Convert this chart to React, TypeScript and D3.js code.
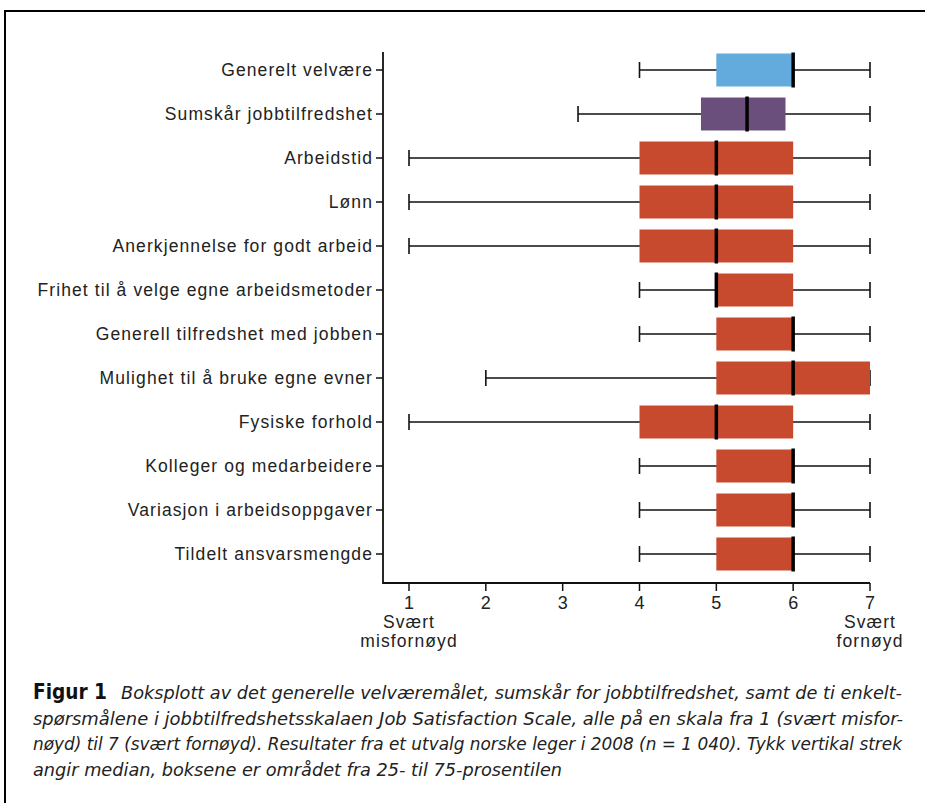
import React from "react";
import * as d3 from "d3";

const categories = [
  "Generelt velvære",
  "Sumskår jobbtilfredshet",
  "Arbeidstid",
  "Lønn",
  "Anerkjennelse for godt arbeid",
  "Frihet til å velge egne arbeidsmetoder",
  "Generell tilfredshet med jobben",
  "Mulighet til å bruke egne evner",
  "Fysiske forhold",
  "Kolleger og medarbeidere",
  "Variasjon i arbeidsoppgaver",
  "Tildelt ansvarsmengde",
];
const minValues = [4, 3.2, 1, 1, 1, 4, 4, 2, 1, 4, 4, 4];
const q1Values = [5, 4.8, 4, 4, 4, 5, 5, 5, 4, 5, 5, 5];
const medianValues = [6, 5.4, 5, 5, 5, 5, 6, 6, 5, 6, 6, 6];
const q3Values = [6, 5.9, 6, 6, 6, 6, 6, 7, 6, 6, 6, 6];
const maxValues = [7, 7, 7, 7, 7, 7, 7, 7, 7, 7, 7, 7];
const groups = ["blue", "purple", "red", "red", "red", "red", "red", "red", "red", "red", "red", "red"];
const xTicks = [1, 2, 3, 4, 5, 6, 7];
const captionLines = [
  "Boksplott av det generelle velværemålet, sumskår for jobbtilfredshet, samt de ti enkelt-",
  "spørsmålene i jobbtilfredshetsskalaen Job Satisfaction Scale, alle på en skala fra 1 (svært misfor-",
  "nøyd) til 7 (svært fornøyd). Resultater fra et utvalg norske leger i 2008 (n = 1 040). Tykk vertikal strek",
  "angir median, boksene er området fra 25- til 75-prosentilen",
];

const colors: Record<string, string> = { blue: "#63abdc", purple: "#6a4f7c", red: "#c74a2f" };

export default function App() {
  const W = 925, H = 803;
  const x = d3.scaleLinear().domain([1, 7]).range([409, 870]);
  const y = d3.scalePoint<string>().domain(categories).range([70, 554]);
  const axisX = 383, axisBottom = 583, axisTop = 52;
  const boxH = 33, capH = 16;
  const font = "'Liberation Sans', Arial, sans-serif";
  const cfont = "'DejaVu Sans Condensed', 'DejaVu Sans', sans-serif";
  const lineW = [869, 870, 869, 529];
  const lblStyle = { letterSpacing: "1.1px" };
  return (
    <svg width={W} height={H} style={{ position: "absolute", left: 0, top: 0, background: "#fff" }}>
      <rect x={0} y={0} width={W} height={H} fill="#fff" />
      <path d={`M5,${H} L5,11 L${W},11`} fill="none" stroke="#000" strokeWidth={2} />
      {categories.map((c, i) => {
        const cy = y(c)!;
        return (
          <g key={c}>
            <line x1={x(minValues[i])} x2={x(maxValues[i])} y1={cy} y2={cy} stroke="#111" strokeWidth={1.6} />
            <line x1={x(minValues[i])} x2={x(minValues[i])} y1={cy - capH / 2} y2={cy + capH / 2} stroke="#111" strokeWidth={1.6} />
            <line x1={x(maxValues[i])} x2={x(maxValues[i])} y1={cy - capH / 2} y2={cy + capH / 2} stroke="#111" strokeWidth={1.6} />
            <rect x={x(q1Values[i])} y={cy - boxH / 2} width={x(q3Values[i]) - x(q1Values[i])} height={boxH} fill={colors[groups[i]]} />
            <line x1={x(medianValues[i])} x2={x(medianValues[i])} y1={cy - boxH / 2 - 1} y2={cy + boxH / 2 + 1} stroke="#000" strokeWidth={3.5} />
            <line x1={axisX - 7} x2={axisX} y1={cy} y2={cy} stroke="#111" strokeWidth={1.5} />
            <text x={axisX - 10} y={cy} dy="0.35em" textAnchor="end" fontFamily={font} fontSize={17.5} fill="#222" style={lblStyle}>{c}</text>
          </g>
        );
      })}
      <path d={`M${axisX},${axisTop} L${axisX},${axisBottom} L${x(7)},${axisBottom}`} fill="none" stroke="#111" strokeWidth={1.8} />
      {xTicks.map((t) => (
        <g key={t}>
          <line x1={x(t)} x2={x(t)} y1={axisBottom} y2={axisBottom + 8} stroke="#111" strokeWidth={1.5} />
          <text x={x(t)} y={609} textAnchor="middle" fontFamily={font} fontSize={18} fill="#222">{t}</text>
        </g>
      ))}
      <text x={x(1)} y={628} textAnchor="middle" fontFamily={font} fontSize={17.5} fill="#222" style={lblStyle}>Svært</text>
      <text x={x(1)} y={647} textAnchor="middle" fontFamily={font} fontSize={17.5} fill="#222" style={lblStyle}>misfornøyd</text>
      <text x={x(7)} y={628} textAnchor="middle" fontFamily={font} fontSize={17.5} fill="#222" style={lblStyle}>Svært</text>
      <text x={x(7)} y={647} textAnchor="middle" fontFamily={font} fontSize={17.5} fill="#222" style={lblStyle}>fornøyd</text>
      <text x={33} y={699} fontFamily={cfont} fontSize={21} fontWeight="bold" fill="#111" textLength={74} lengthAdjust="spacingAndGlyphs">Figur 1</text>
      {captionLines.map((l, i) => {
        const x0 = i === 0 ? 121 : 33;
        return (
          <text key={i} x={x0} y={699 + i * 25.5} fontFamily={cfont} fontStyle="italic" fontSize={18} fill="#222"
            textLength={i === 0 ? 902 - 121 : lineW[i]} lengthAdjust="spacingAndGlyphs">{l}</text>
        );
      })}
    </svg>
  );
}
